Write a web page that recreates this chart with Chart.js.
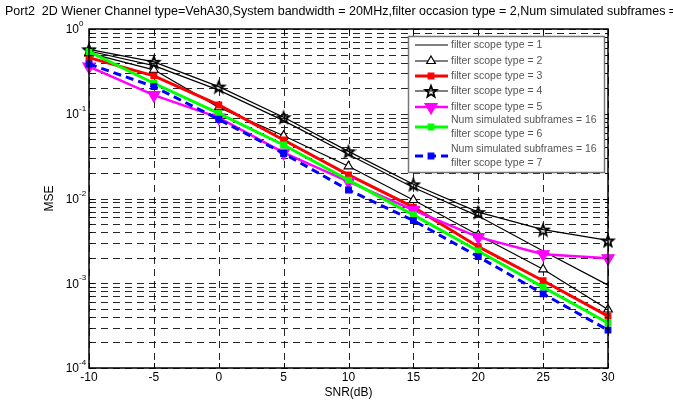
<!DOCTYPE html>
<html>
<head>
<meta charset="utf-8">
<script src="https://cdn.jsdelivr.net/npm/chart.js@4.4.1/dist/chart.umd.min.js"></script>
<style>
  html, body { margin: 0; padding: 0; background: #fff; }
</style>
</head>
<body>
<canvas id="mseChart" width="673" height="403"></canvas>
<script>
const snr = [-10, -5, 0, 5, 10, 15, 20, 25, 30];
const xTicks = [-10, -5, 0, 5, 10, 15, 20, 25, 30];
const yExponents = [0, -1, -2, -3, -4];

const type1 = [0.55, 0.37, 0.19, 0.083, 0.033, 0.0135, 0.0062, 0.0024, 0.00095];
const type2 = [0.52, 0.33, 0.119, 0.055, 0.024, 0.0096, 0.0037, 0.00146, 0.00049];
const type3 = [0.46, 0.28, 0.127, 0.049, 0.019, 0.0079, 0.0027, 0.00107, 0.00041];
const type4 = [0.575, 0.41, 0.209, 0.091, 0.036, 0.0147, 0.0069, 0.0043, 0.0032];
const type5 = [0.36, 0.166, 0.09, 0.0347, 0.0158, 0.0073, 0.0035, 0.0022, 0.00197];
const type6 = [0.54, 0.229, 0.101, 0.0428, 0.0165, 0.0064, 0.0024, 0.0009, 0.00034];
const type7 = [0.386, 0.209, 0.086, 0.034, 0.0126, 0.0055, 0.00206, 0.00075, 0.00028];

const titleText = "Port2  2D Wiener Channel type=VehA30,System bandwidth = 20MHz,filter occasion type = 2,Num simulated subframes =";
const legendLabels = [
  ["filter scope type = 1"],
  ["filter scope type = 2"],
  ["filter scope type = 3"],
  ["filter scope type = 4"],
  ["filter scope type = 5"],
  ["Num simulated subframes = 16", "filter scope type = 6"],
  ["Num simulated subframes = 16", "filter scope type = 7"]
];

const FONT = '"Liberation Sans", Arial, sans-serif';

// pentagram marker (matlab 'p')
function makeStar(r) {
  const c = document.createElement("canvas");
  const s = Math.ceil(r * 2 + 4);
  c.width = s; c.height = s;
  const g = c.getContext("2d");
  g.beginPath();
  for (let i = 0; i < 10; i++) {
    const rr = i % 2 === 0 ? r : r * 0.42;
    const a = -Math.PI / 2 + i * Math.PI / 5;
    const px = s / 2 + rr * Math.cos(a), py = s / 2 + 0.8 + rr * Math.sin(a);
    if (i === 0) g.moveTo(px, py); else g.lineTo(px, py);
  }
  g.closePath();
  g.lineWidth = 1.8;
  g.lineJoin = "miter";
  g.strokeStyle = "#000";
  g.stroke();
  return c;
}
const starImg = makeStar(6);

const pts = (vals) => snr.map((x, i) => ({ x: x, y: vals[i] }));

const series = [
  { data: type1, color: "#000", width: 1.2, style: false, radius: 0 },
  { data: type2, color: "#000", width: 1.2, style: "triangle", radius: 5, fill: "#fff" },
  { data: type3, color: "#ff0000", width: 3, style: "rect", radius: 4, fill: "#ff0000" },
  { data: type4, color: "#000", width: 1.2, style: starImg, radius: 6, fill: "#000" },
  { data: type5, color: "#ff00ff", width: 2.5, style: "triangle", radius: 7, fill: "#ff00ff", rotation: 180 },
  { data: type6, color: "#00ff00", width: 3, style: "rect", radius: 4, fill: "#00ff00" },
  { data: type7, color: "#0000ff", width: 3, style: "rect", radius: 4, fill: "#0000ff", dash: [8, 5] }
];

const yTicks = [];
for (let e = -4; e < 0; e++) {
  for (let m = 1; m <= 9; m++) yTicks.push(m * Math.pow(10, e));
}
yTicks.push(1);

const decor = {
  id: "decor",
  beforeDraw(chart) {
    const ctx = chart.ctx;
    ctx.save();
    ctx.fillStyle = "#fff";
    ctx.fillRect(0, 0, chart.width, chart.height);
    ctx.restore();
  },
  beforeDatasetsDraw(chart) {
    const { ctx, chartArea: a, scales: { x, y } } = chart;
    ctx.save();
    ctx.strokeStyle = "rgba(0,0,0,0.85)";
    ctx.lineWidth = 1;
    ctx.setLineDash([7, 5]);
    xTicks.forEach(v => {
      const px = Math.round(x.getPixelForValue(v)) + 0.5;
      ctx.beginPath(); ctx.moveTo(px, a.top); ctx.lineTo(px, a.bottom); ctx.stroke();
    });
    yTicks.forEach(v => {
      const py = Math.round(y.getPixelForValue(v)) + 0.5;
      ctx.beginPath(); ctx.moveTo(a.left, py); ctx.lineTo(a.right, py); ctx.stroke();
    });
    ctx.restore();
  },
  afterDatasetsDraw(chart) {
    const { ctx, chartArea: a, scales: { x, y } } = chart;
    ctx.save();
    ctx.strokeStyle = "#000";
    ctx.lineWidth = 1;
    ctx.setLineDash([]);
    // tick marks inside
    xTicks.forEach(v => {
      const px = Math.round(x.getPixelForValue(v)) + 0.5;
      ctx.beginPath();
      ctx.moveTo(px, a.bottom); ctx.lineTo(px, a.bottom - 5);
      ctx.moveTo(px, a.top); ctx.lineTo(px, a.top + 5);
      ctx.stroke();
    });
    yTicks.forEach(v => {
      const py = Math.round(y.getPixelForValue(v)) + 0.5;
      const len = Math.abs(Math.log10(v) - Math.round(Math.log10(v))) < 1e-6 ? 5 : 3;
      ctx.beginPath();
      ctx.moveTo(a.left, py); ctx.lineTo(a.left + len, py);
      ctx.moveTo(a.right, py); ctx.lineTo(a.right - len, py);
      ctx.stroke();
    });
    ctx.lineWidth = 1.5;
    ctx.strokeRect(a.left, a.top, a.right - a.left, a.bottom - a.top);
    ctx.restore();
  },
  afterDraw(chart) {
    const { ctx, chartArea: a, scales: { x, y } } = chart;
    ctx.save();
    ctx.fillStyle = "#000";

    // x tick labels
    ctx.font = "12px " + FONT;
    ctx.textAlign = "center";
    ctx.textBaseline = "middle";
    xTicks.forEach(v => ctx.fillText(String(v), x.getPixelForValue(v), a.bottom + 10));

    // y tick labels 10^n
    yExponents.forEach(e => {
      const py = y.getPixelForValue(Math.pow(10, e));
      ctx.font = "12px " + FONT;
      ctx.textAlign = "right";
      ctx.textBaseline = "middle";
      ctx.fillText("10", a.left - 10, py + 1);
      ctx.font = "8px " + FONT;
      ctx.textAlign = "left";
      ctx.fillText(String(e), a.left - 10, py - 5);
    });

    // axis titles
    ctx.font = "12px " + FONT;
    ctx.textAlign = "center";
    ctx.fillText("SNR(dB)", (a.left + a.right) / 2, a.bottom + 25);
    ctx.save();
    ctx.translate(a.left - 39, (a.top + a.bottom) / 2);
    ctx.rotate(-Math.PI / 2);
    ctx.fillText("MSE", 0, 0);
    ctx.restore();

    // title
    ctx.font = "12.5px " + FONT;
    ctx.textAlign = "left";
    ctx.fillText(titleText, 5, 12);

    // legend
    const lx = 408, ly = 36, lw = 196, lh = 136;
    ctx.fillStyle = "#fff";
    ctx.fillRect(lx, ly, lw, lh);
    ctx.strokeStyle = "#777";
    ctx.lineWidth = 1.5;
    ctx.strokeRect(lx + 0.5, ly + 0.5, lw, lh);
    const rows = [45, 61, 76, 91, 107, 127, 156];
    ctx.font = "10.5px " + FONT;
    ctx.textBaseline = "middle";
    series.forEach((s, i) => {
      const ry = rows[i];
      ctx.save();
      ctx.strokeStyle = s.color;
      ctx.lineWidth = s.width;
      ctx.setLineDash(s.dash || []);
      ctx.beginPath(); ctx.moveTo(415, ry); ctx.lineTo(448, ry); ctx.stroke();
      ctx.setLineDash([]);
      if (s.style) {
        ctx.fillStyle = s.fill; ctx.strokeStyle = s.color; ctx.lineWidth = 1.2;
        Chart.helpers.drawPoint(ctx, {
          pointStyle: s.style, radius: s.radius, rotation: s.rotation || 0, borderWidth: 1.2
        }, 431, ry);
      }
      ctx.restore();
      ctx.fillStyle = "#555";
      const lines = legendLabels[i];
      if (lines.length === 1) {
        ctx.fillText(lines[0], 451, ry);
      } else {
        ctx.fillText(lines[0], 451, ry - 7);
        ctx.fillText(lines[1], 451, ry + 7);
      }
    });
    ctx.restore();
  }
};

new Chart(document.getElementById("mseChart").getContext("2d"), {
  type: "line",
  data: {
    datasets: series.map((s, i) => ({
      label: legendLabels[i].join(" "),
      data: pts(s.data),
      borderColor: s.color,
      borderWidth: s.width,
      borderDash: s.dash || [],
      pointStyle: s.style,
      pointRadius: s.radius,
      pointRotation: s.rotation || 0,
      pointBackgroundColor: s.fill || s.color,
      pointBorderColor: s.color,
      pointBorderWidth: 1.2,
      tension: 0,
      fill: false,
      clip: false,
      order: 7 - i
    }))
  },
  options: {
    responsive: false,
    animation: false,
    events: [],
    layout: { padding: { left: 89, top: 29, right: 65, bottom: 35 } },
    plugins: { legend: { display: false }, title: { display: false }, tooltip: { enabled: false } },
    scales: {
      x: {
        type: "linear", min: -10, max: 30,
        ticks: { display: false }, grid: { display: false }, border: { display: false },
        afterFit: s => { s.height = 0; }
      },
      y: {
        type: "logarithmic", min: 1e-4, max: 1,
        ticks: { display: false }, grid: { display: false }, border: { display: false },
        afterFit: s => { s.width = 0; }
      }
    }
  },
  plugins: [decor]
});
</script>
</body>
</html>
